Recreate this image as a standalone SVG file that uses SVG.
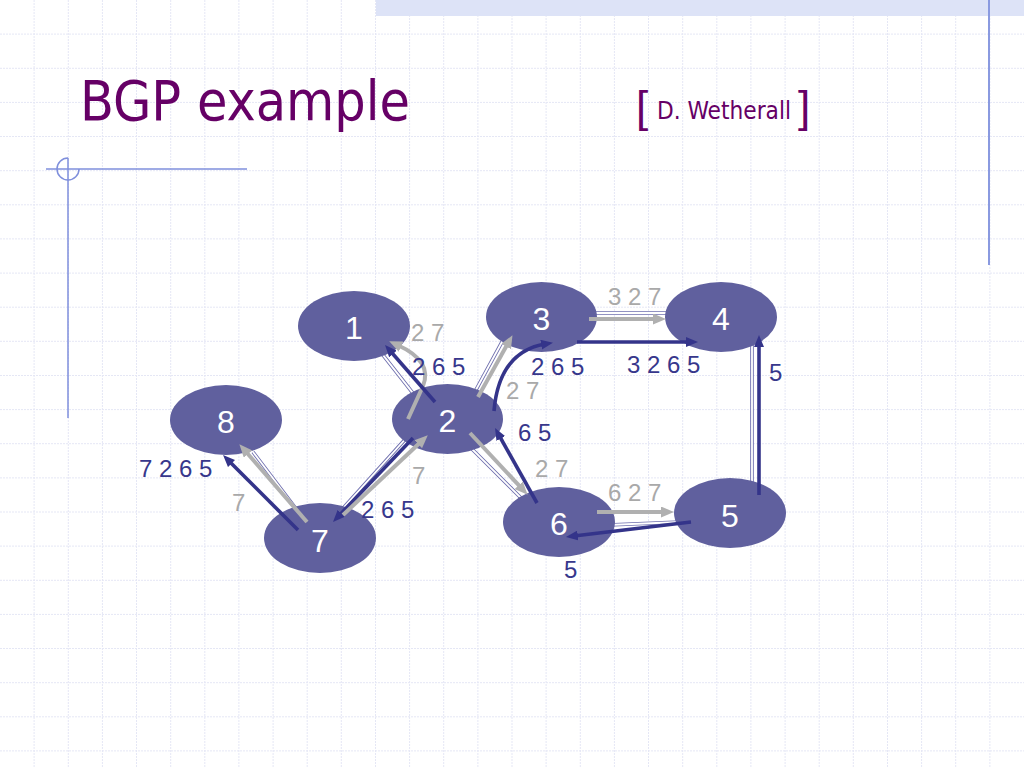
<svg xmlns="http://www.w3.org/2000/svg" width="1024" height="768" viewBox="0 0 1024 768">
<defs>
<style>
.grid{stroke:#e5e7f5;stroke-width:1;stroke-dasharray:2 1;fill:none}
.deco{stroke:#7f8fdc;stroke-width:1.5;fill:none}
.link-o{stroke:#6f6fae;stroke-width:3.6;fill:none}
.link-i{stroke:#ffffff;stroke-width:1.8;fill:none}
.node{fill:#60609e}
.nlabel{font-family:"Liberation Sans",Arial,sans-serif;font-size:32px;fill:#ffffff;text-anchor:middle}
.dark{stroke:#34348a;stroke-width:3.6;fill:none;marker-end:url(#hd)}
.gray{stroke:#b0b0b0;stroke-width:4;fill:none;marker-end:url(#hg)}
.lbl{font-family:"Liberation Sans",Arial,sans-serif;font-size:24px}
.ld{fill:#37378c}
.lg{fill:#a9a9a9}
.br{font-family:"Liberation Sans",Arial,sans-serif;font-size:44px;fill:#660066}
</style>
<marker id="hd" markerUnits="userSpaceOnUse" markerWidth="12" markerHeight="10" refX="4" refY="5" orient="auto" viewBox="0 0 12 10">
<path d="M0,0 L12,5 L0,10 z" fill="#34348a"/>
</marker>
<marker id="hg" markerUnits="userSpaceOnUse" markerWidth="13" markerHeight="11" refX="4" refY="5.5" orient="auto" viewBox="0 0 13 11">
<path d="M0,0 L13,5.5 L0,11 z" fill="#b0b0b0"/>
</marker>
</defs>
<rect width="1024" height="768" fill="#ffffff"/>
<g id="background">
<path class="grid" d="M34.1,0V768M68.3,0V768M102.4,0V768M136.5,0V768M170.7,0V768M204.8,0V768M238.9,0V768M273.1,0V768M307.2,0V768M341.3,0V768M375.5,0V768M409.6,0V768M443.7,0V768M477.9,0V768M512,0V768M546.1,0V768M580.3,0V768M614.4,0V768M648.5,0V768M682.7,0V768M716.8,0V768M750.9,0V768M785.1,0V768M819.2,0V768M853.3,0V768M887.5,0V768M921.6,0V768M955.7,0V768M989.9,0V768M0,34.1H1024M0,68.3H1024M0,102.4H1024M0,136.5H1024M0,170.7H1024M0,204.8H1024M0,238.9H1024M0,273.1H1024M0,307.2H1024M0,341.3H1024M0,375.5H1024M0,409.6H1024M0,443.7H1024M0,477.9H1024M0,512H1024M0,546.1H1024M0,580.3H1024M0,614.4H1024M0,648.5H1024M0,682.7H1024M0,716.8H1024M0,750.9H1024"/>
<rect x="376" y="0" width="648" height="16" fill="#dde3f7"/>
<line x1="989" y1="0" x2="989" y2="265" stroke="#8a9ae0" stroke-width="2"/>
<line class="deco" x1="46" y1="169" x2="247" y2="169"/>
<line class="deco" x1="68" y1="158" x2="68" y2="418"/>
<path class="deco" d="M68,158 A11,11 0 1,0 79,169"/>
</g>
<g id="title">
<text x="80" y="120" font-family="'DejaVu Sans Condensed','DejaVu Sans',sans-serif" font-stretch="condensed" font-size="55" fill="#660066" textLength="330" lengthAdjust="spacingAndGlyphs">BGP example</text>
<text class="br" x="636" y="122">[</text>
<text x="657" y="119" font-family="'DejaVu Sans Condensed','DejaVu Sans',sans-serif" font-size="24.5" fill="#660066" textLength="134" lengthAdjust="spacingAndGlyphs">D. Wetherall</text>
<text class="br" x="798" y="122">]</text>
</g>
<g id="links">
<g class="link-o">
<path d="M376.8,347.1L418.2,399.9M472.2,396.8L507.8,331.2M590,313L672,313M752,345L752,485M608,525L680,522M466,443L527,504M332,520.5L414,429.5M253,452L297,510"/>
</g>
<g class="link-i">
<path d="M376.8,347.1L418.2,399.9M472.2,396.8L507.8,331.2M590,313L672,313M752,345L752,485M608,525L680,522M466,443L527,504M332,520.5L414,429.5M253,452L297,510"/>
</g>
</g>
<g id="node1"><ellipse class="node" cx="354" cy="326" rx="56" ry="35"/><text class="nlabel" x="354" y="339">1</text></g>
<g id="node2"><ellipse class="node" cx="447.5" cy="419" rx="55.5" ry="35"/><text class="nlabel" x="447.5" y="432">2</text></g>
<g id="node3"><ellipse class="node" cx="541.5" cy="317" rx="55.5" ry="35"/><text class="nlabel" x="541.5" y="330">3</text></g>
<g id="node4"><ellipse class="node" cx="721" cy="317" rx="56" ry="35"/><text class="nlabel" x="721" y="330">4</text></g>
<g id="node5"><ellipse class="node" cx="730" cy="513" rx="56" ry="35"/><text class="nlabel" x="730" y="527">5</text></g>
<g id="node6"><ellipse class="node" cx="559" cy="522" rx="56" ry="35"/><text class="nlabel" x="559" y="535">6</text></g>
<g id="node7"><ellipse class="node" cx="320" cy="538" rx="56" ry="35"/><text class="nlabel" x="320" y="552">7</text></g>
<g id="node8"><ellipse class="node" cx="226" cy="420" rx="56" ry="35"/><text class="nlabel" x="226" y="433">8</text></g>
<g id="connectors">
<path class="gray" d="M408,419 L423,386 Q433,361 397.4,345"/>
<path class="dark" d="M435,402 L390.3,351"/>
<path class="gray" d="M478,397 L508.1,343"/>
<path class="dark" d="M494,411 Q499,352 545.1,344"/>
<path class="gray" d="M589,319 L657,319"/>
<path class="dark" d="M577,342 L690,342"/>
<path class="dark" d="M759,495 L759,343"/>
<path class="gray" d="M597,512 L665,512"/>
<path class="dark" d="M691,522 L573.9,536"/>
<path class="gray" d="M470,433 L521.5,488.2"/>
<path class="dark" d="M537,503 L498.9,435"/>
<path class="dark" d="M413,438 L338.5,516.2"/>
<path class="gray" d="M343,515 L421.2,441.5"/>
<path class="gray" d="M307,522 L245.3,451"/>
<path class="dark" d="M298,530 L228.7,460.7"/>
</g>
<g id="labels" class="lbl">
<text class="lg" x="411" y="341">2 7</text>
<text class="ld" x="412" y="375">2 6 5</text>
<text class="ld" x="531" y="375">2 6 5</text>
<text class="lg" x="506" y="399">2 7</text>
<text class="ld" x="518" y="441">6 5</text>
<text class="lg" x="535" y="477">2 7</text>
<text class="lg" x="608" y="305">3 2 7</text>
<text class="ld" x="627" y="373">3 2 6 5</text>
<text class="ld" x="769" y="381">5</text>
<text class="lg" x="608" y="501">6 2 7</text>
<text class="ld" x="564" y="578">5</text>
<text class="ld" x="139" y="477">7 2 6 5</text>
<text class="lg" x="232" y="511">7</text>
<text class="lg" x="412" y="484">7</text>
<text class="ld" x="361" y="518">2 6 5</text>
</g>
</svg>
